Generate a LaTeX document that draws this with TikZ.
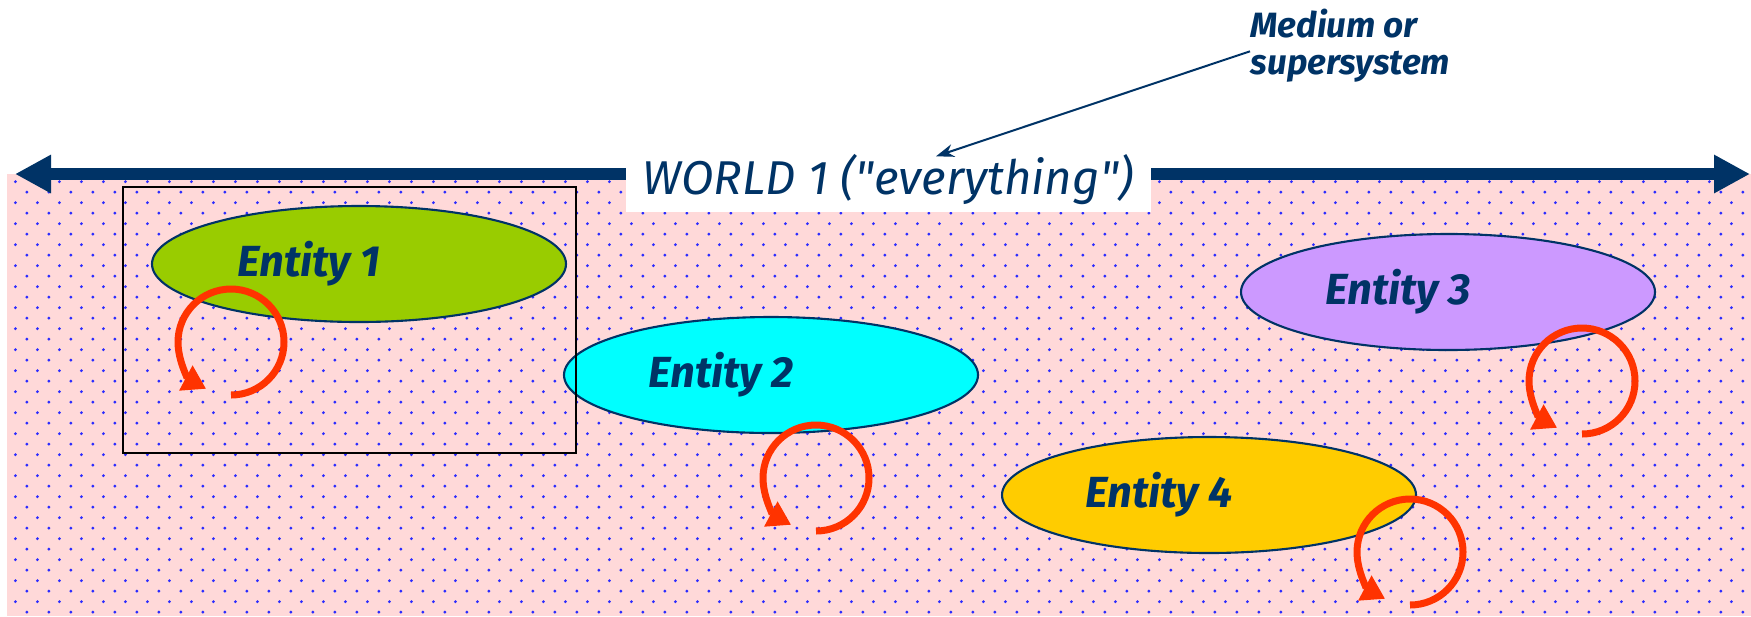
\documentclass[tikz,border=0pt]{standalone}
\usepackage{fontspec}
\setmainfont{Fira Sans}
\usepackage{xcolor}
\usepackage{tikz}
\usetikzlibrary{shapes.geometric}
\usetikzlibrary{arrows.meta}
\usetikzlibrary{patterns}
\definecolor{navy}{HTML}{003366}
\definecolor{worldpink}{HTML}{FFD9D9}
\definecolor{dotblue}{HTML}{2B2BFF}
\definecolor{loopred}{HTML}{FF3300}
\definecolor{egreen}{HTML}{99CC00}
\definecolor{ecyan}{HTML}{00FFFF}
\definecolor{elilac}{HTML}{CC99FF}
\definecolor{eyellow}{HTML}{FFCC00}
\pgfdeclarepatternformonly{worlddots}{\pgfqpoint{0mm}{0mm}}{\pgfqpoint{2.15mm}{2.14mm}}{\pgfqpoint{2.15mm}{2.14mm}}{%
\pgfpathcircle{\pgfqpoint{0.5mm}{0.5mm}}{0.16mm}%
\pgfpathcircle{\pgfqpoint{1.575mm}{1.57mm}}{0.16mm}%
\pgfusepath{fill}}
\tikzset{entity/.style={ellipse, draw=navy, line width=0.6pt, minimum width=41.4mm, minimum height=11.6mm, text=navy, font=\fontsize{12.4}{15}\selectfont\bfseries\itshape}}
\tikzset{spin/.style={draw=loopred, line width=0.7mm, -{Triangle[length=2.3mm,width=2.7mm]}}}
\tikzset{note/.style={draw=navy, line width=0.2mm, -{Stealth[length=1.8mm,width=1.3mm]}}}

\begin{document}
\begin{tikzpicture}[x=0.1mm,y=0.1mm]
\useasboundingbox (0,0) rectangle (1751,616);
\fill[worldpink] (7,0) rectangle (1751,442);
\fill[pattern=worlddots, pattern color=dotblue] (7,0) rectangle (1751,442);
\coordinate (wl) at (15,442);
\coordinate (wr) at (1750,442);
\draw[navy, line width=1.2mm, {Triangle[length=3.6mm,width=3.6mm]}-{Triangle[length=3.6mm,width=3.6mm]}] (wl) -- (wr);
\node[fill=white, minimum width=52.5mm, minimum height=6.4mm, inner sep=0, text=navy, font=\fontsize{13.5}{16}\selectfont\itshape] (w) at (888,436) {WORLD 1 (\textquotedbl everything\textquotedbl)};

\node[entity, fill=egreen] (e1) at (359,352) {Entity 1\hspace*{10mm}};
\node[entity, fill=ecyan] (e2) at (771,241) {Entity 2\hspace*{10mm}};
\node[entity, fill=elilac] (e3) at (1448,324) {Entity 3\hspace*{10mm}};
\node[entity, fill=eyellow] (e4) at (1209,121) {Entity 4\hspace*{10mm}};
\draw[line width=0.6pt] (123,163) rectangle (576,429);

\coordinate (c1) at (231,274);
\coordinate (c2) at (816,138);
\coordinate (c3) at (1582,235);
\coordinate (c4) at (1410,64);
\draw[spin] ([shift={(-90:5.3mm)}]c1) arc[start angle=-90, end angle=242, radius=5.3mm];
\draw[spin] ([shift={(-90:5.3mm)}]c2) arc[start angle=-90, end angle=242, radius=5.3mm];
\draw[spin] ([shift={(-90:5.3mm)}]c3) arc[start angle=-90, end angle=242, radius=5.3mm];
\draw[spin] ([shift={(-90:5.3mm)}]c4) arc[start angle=-90, end angle=242, radius=5.3mm];

\node[anchor=north west, inner sep=0, align=left, text=navy, font=\fontsize{10}{10.5}\selectfont\bfseries\itshape] (m) at (1250,608) {Medium or\\supersystem};
\draw[note] ([yshift=-0.6mm]m.west) -- ([xshift=4.8mm,yshift=-0.9mm]w.north);
\end{tikzpicture}
\end{document}
